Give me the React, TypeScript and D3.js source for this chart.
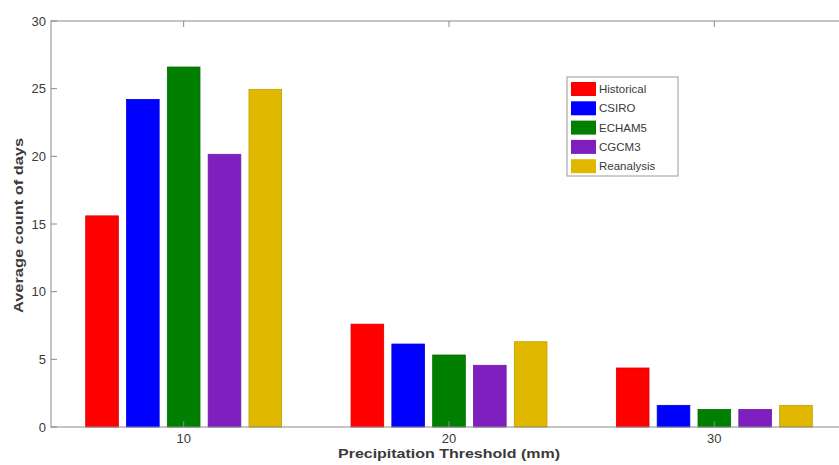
import React from "react";
import * as d3 from "d3";

const categories = ["10", "20", "30"];
const seriesNames = ["Historical", "CSIRO", "ECHAM5", "CGCM3", "Reanalysis"];
const seriesColors = ["#ff0000", "#0000ff", "#007f00", "#7f1fbf", "#e0b800"];
const historical = [15.6, 7.6, 4.36];
const csiro = [24.2, 6.13, 1.6];
const echam5 = [26.6, 5.32, 1.3];
const cgcm3 = [20.15, 4.56, 1.3];
const reanalysis = [24.95, 6.3, 1.6];
const yTicks = [0, 5, 10, 15, 20, 25, 30];

const seriesValues = [historical, csiro, echam5, cgcm3, reanalysis];

export default function App() {
  const W = 839, H = 465;
  const left = 51, top = 21, bottom = 427, right = 847;
  const x = d3.scaleLinear().domain([0.5, 3.5]).range([left, right]);
  const y = d3.scaleLinear().domain([0, 30]).range([bottom, top]);
  const n = seriesNames.length;
  const groupWidth = Math.min(0.8, n / (n + 1.5));
  const step = groupWidth / n;
  const barW = step * 0.8;
  const tickLen = 6;
  const axisColor = "#8a8a8a";
  const textColor = "#3a3a3a";
  const font = "Liberation Sans, Arial, sans-serif";

  return (
    <svg width={W} height={H} style={{ position: "absolute", left: 0, top: 0, background: "#fff" }}>
      <rect x={0} y={0} width={W} height={H} fill="#fff" />
      {/* bars */}
      {seriesValues.map((vals, si) =>
        vals.map((v, ci) => {
          const cx = ci + 1 - groupWidth / 2 + step * (si + 0.5);
          const x0 = x(cx - barW / 2);
          const x1 = x(cx + barW / 2);
          return (
            <rect
              key={`${si}-${ci}`}
              x={x0}
              y={y(v)}
              width={x1 - x0}
              height={y(0) - y(v)}
              fill={seriesColors[si]}
              stroke={d3.color(seriesColors[si])!.darker(0.4).toString()}
              strokeWidth={0.8}
            />
          );
        })
      )}
      {/* axes box */}
      <rect x={left} y={top} width={right - left} height={bottom - top} fill="none" stroke={axisColor} strokeWidth={1} />
      {/* y ticks */}
      {yTicks.map((t) => (
        <g key={t}>
          <line x1={left} x2={left + tickLen} y1={y(t)} y2={y(t)} stroke={axisColor} />
          <line x1={right} x2={right - tickLen} y1={y(t)} y2={y(t)} stroke={axisColor} />
          <text x={left - 5} y={y(t)} dy="0.35em" textAnchor="end" fontSize={13} fontFamily={font} fill={textColor}>
            {t}
          </text>
        </g>
      ))}
      {/* x ticks */}
      {categories.map((c, i) => (
        <g key={c}>
          <line x1={x(i + 1)} x2={x(i + 1)} y1={bottom} y2={bottom - tickLen} stroke={axisColor} />
          <line x1={x(i + 1)} x2={x(i + 1)} y1={top} y2={top + tickLen} stroke={axisColor} />
          <text x={x(i + 1)} y={bottom + 16} textAnchor="middle" fontSize={13} fontFamily={font} fill={textColor}>
            {c}
          </text>
        </g>
      ))}
      {/* axis labels */}
      <text
        x={449}
        y={458}
        textAnchor="middle"
        fontSize={13}
        fontWeight="bold"
        fontFamily={font}
        fill={textColor}
        textLength={222}
        lengthAdjust="spacingAndGlyphs"
      >
        Precipitation Threshold (mm)
      </text>
      <text
        transform={`translate(23,${(138 + 313) / 2}) rotate(-90)`}
        textAnchor="middle"
        fontSize={13}
        fontWeight="bold"
        fontFamily={font}
        fill={textColor}
        textLength={175}
        lengthAdjust="spacingAndGlyphs"
      >
        Average count of days
      </text>
      {/* legend */}
      <g>
        <rect x={567} y={77} width={111} height={99} fill="#fff" stroke="#9a9a9a" strokeWidth={1} />
        {seriesNames.map((name, i) => {
          const cy = 89 + i * 19.3;
          return (
            <g key={name}>
              <rect x={571} y={cy - 7} width={25} height={14} fill={seriesColors[i]} />
              <text x={599} y={cy} dy="0.35em" fontSize={11.5} fontFamily={font} fill={textColor}>
                {name}
              </text>
            </g>
          );
        })}
      </g>
    </svg>
  );
}
